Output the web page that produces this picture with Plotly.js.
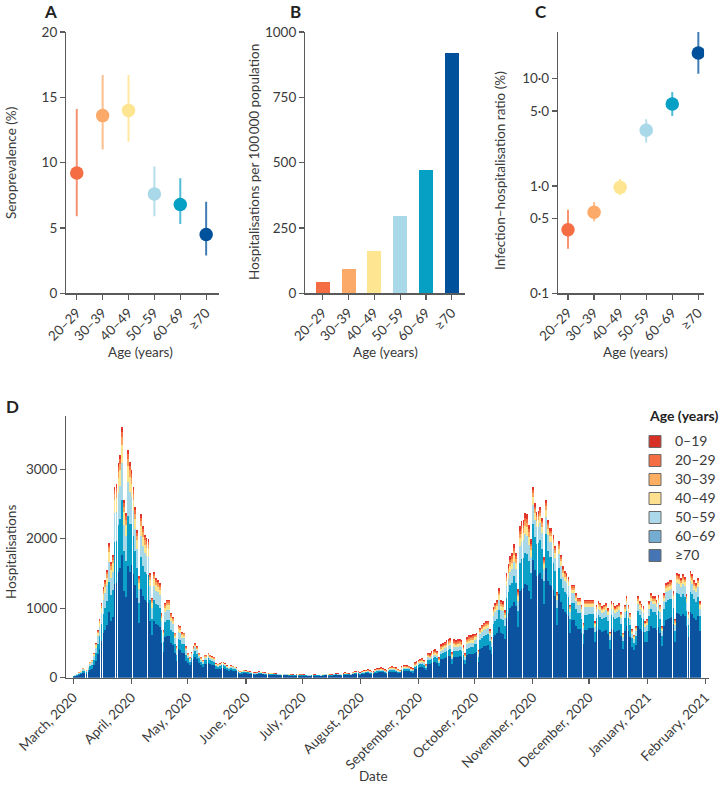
<!DOCTYPE html>
<html>
<head>
<meta charset="utf-8">
<script src="https://cdn.plot.ly/plotly-3.0.1.min.js"></script>
<style>
  html, body { margin: 0; padding: 0; background: #fff; }
  #chart { width: 721px; height: 786px; }
</style>
</head>
<body>
<div id="chart"></div>
<script>
// ---------- Panels A–C: by age group ----------
const ageGroups = ['20–29', '30–39', '40–49', '50–59', '60–69', '≥70'];
const seroMid  = [9.2, 13.6, 14.0, 7.6, 6.8, 4.5];
const seroLow  = [5.9, 11.0, 11.6, 5.9, 5.3, 2.9];
const seroHigh = [14.1, 16.7, 16.7, 9.7, 8.8, 7.0];
const hospPer100k = [44, 94, 163, 296, 470, 920];
const ihrMid  = [0.39, 0.57, 0.97, 3.30, 5.8, 17.3];
const ihrLow  = [0.26, 0.47, 0.82, 2.54, 4.49, 11.1];
const ihrHigh = [0.60, 0.71, 1.16, 4.18, 7.5, 27.2];
const ageColors = ['#f46d43', '#fcaa69', '#fee591', '#a9d9e9', '#06a0c5', '#00519b'];
const ageErrColors = ['rgba(244,109,67,0.75)', 'rgba(252,170,105,0.75)', 'rgba(254,229,145,0.85)',
                      'rgba(169,217,233,0.85)', 'rgba(6,160,197,0.7)', 'rgba(0,81,155,0.75)'];

// ---------- Panel D: daily hospitalisations (total per day, by month) ----------
const monthStarts = ['2020-03', '2020-04', '2020-05', '2020-06', '2020-07', '2020-08',
                     '2020-09', '2020-10', '2020-11', '2020-12', '2021-01'];
const totMar = [30,40,60,80,100,140,130,110,160,230,260,360,500,690,850,1080,1300,1410,1550,1940,1670,1770,2750,2780,3090,3210,3600,2560,2370,3280,3110];
const totApr = [2990,2750,2460,2130,1460,2350,2180,2060,2010,1990,1510,1150,1520,1440,1410,1360,930,690,1080,1120,1120,930,880,650,450,760,740,660,650,450];
const totMay = [360,300,370,450,500,450,360,300,260,330,330,360,330,310,300,210,200,210,230,230,210,180,160,180,170,160,150,110,95,100,110];
const totJun = [105,100,90,85,80,75,80,90,85,80,75,70,65,70,70,65,62,58,55,52,60,58,55,52,50,48,45,50,52,50];
const totJul = [50,48,45,42,40,45,50,48,46,45,42,55,60,58,55,50,48,60,65,62,58,55,65,75,70,65,60,85,90,95,100];
const totAug = [80,100,110,115,120,110,100,90,125,135,140,150,140,120,105,145,160,165,160,150,130,115,170,180,185,180,175,150,135,220,240];
const totSep = [260,270,280,260,200,360,350,380,400,410,390,300,480,500,520,540,560,575,370,550,540,550,560,540,470,360,590,610,620,625];
const totOct = [630,640,400,720,760,790,810,820,700,590,1020,1080,1120,1290,1120,1100,980,1510,1630,1750,1800,1920,1800,1270,2180,2250,2270,2370,2350,2200,1990];
const totNov = [2750,2510,2390,2400,2460,2300,1730,2560,2270,2160,2150,2050,1900,1240,1960,1770,1600,1540,1500,1450,1050,1340,1340,1220,1150,1150,1050,790,1120,1120];
const totDec = [1120,1120,1120,810,1050,1100,1080,1030,1050,1070,1000,660,1100,1080,1030,1050,1070,950,650,1050,1170,1050,930,700,620,740,1170,1100,1060,1030,810];
const totJan = [840,1100,1220,1170,1170,1120,1190,1050,740,1220,1360,1380,1400,1410,1250,840,1510,1490,1440,1490,1450,1200,950,1530,1490,1400,1360,1440,1100];
const monthTotals = [totMar, totApr, totMay, totJun, totJul, totAug, totSep, totOct, totNov, totDec, totJan];

// share (%) of each age group per month, Mar 2020 → Jan 2021
const share0_19  = [2, 2, 3, 5, 7, 7, 5, 3, 2, 2, 2];
const share20_29 = [2, 2, 2, 3, 4, 5, 4, 2, 1.5, 1.5, 1.5];
const share30_39 = [3, 3, 3, 3, 4, 5, 4, 3, 2, 2, 2];
const share40_49 = [7, 6, 5, 5, 5, 6, 6, 5, 4, 4, 4];
const share50_59 = [15, 13, 10, 9, 9, 9, 10, 11, 10, 9, 10];
const share60_69 = [22, 20, 17, 15, 14, 14, 16, 19, 19, 18, 19];
const share70    = [49, 54, 60, 60, 57, 54, 55, 57, 61.5, 63.5, 61.5];

const dAgeLabels = ['0–19', '20–29', '30–39', '40–49', '50–59', '60–69', '≥70'];
const dShares = [share0_19, share20_29, share30_39, share40_49, share50_59, share60_69, share70];
const dBarColors = ['#e2352b', '#f46d43', '#fba55f', '#fde48f', '#a6d8e8', '#0aa0c8', '#0b539e'];
const dLegendColors = ['#d73027', '#f46d43', '#fdae61', '#fee090', '#abd9e9', '#74add1', '#4575b4'];

const tickDates = ['2020-03-01','2020-04-01','2020-05-01','2020-06-01','2020-07-01','2020-08-01',
                   '2020-09-01','2020-10-01','2020-11-01','2020-12-01','2021-01-01','2021-02-01'];
const tickLabels = ['March, 2020','April, 2020','May, 2020','June, 2020','July, 2020','August, 2020',
                    'September, 2020','October, 2020','November, 2020','December, 2020','January, 2021','February, 2021'];

// ---------- build ----------
const FONT = 'Lato, "Open Sans", sans-serif';
const TXT = '#3a3a3a';
const AX = '#5a5a5a';

const traces = [];

// Panel A
ageGroups.forEach((g, i) => {
  traces.push({
    type: 'scatter', mode: 'markers', xaxis: 'x', yaxis: 'y', showlegend: false,
    x: [g], y: [seroMid[i]],
    marker: { size: 13.5, color: ageColors[i] },
    error_y: { type: 'data', symmetric: false, array: [seroHigh[i] - seroMid[i]],
               arrayminus: [seroMid[i] - seroLow[i]], color: ageErrColors[i], thickness: 2, width: 0 },
    hoverinfo: 'skip'
  });
});

// Panel B
traces.push({
  type: 'bar', xaxis: 'x2', yaxis: 'y2', showlegend: false,
  x: ageGroups, y: hospPer100k, width: 0.54,
  marker: { color: ageColors }, hoverinfo: 'skip'
});

// Panel C
ageGroups.forEach((g, i) => {
  traces.push({
    type: 'scatter', mode: 'markers', xaxis: 'x3', yaxis: 'y3', showlegend: false,
    x: [g], y: [ihrMid[i]],
    marker: { size: 13.5, color: ageColors[i] },
    error_y: { type: 'data', symmetric: false, array: [ihrHigh[i] - ihrMid[i]],
               arrayminus: [ihrMid[i] - ihrLow[i]], color: ageErrColors[i], thickness: 2, width: 0 },
    hoverinfo: 'skip'
  });
});

// Panel D
const dates = [];
monthTotals.forEach((arr, m) => {
  arr.forEach((v, d) => dates.push(monthStarts[m] + '-' + String(d + 1).padStart(2, '0')));
});
const DAY = 86400000;
for (let g = dAgeLabels.length - 1; g >= 0; g--) {
  const ys = [];
  monthTotals.forEach((arr, m) => arr.forEach(v => ys.push(v * dShares[g][m] / 100)));
  traces.push({
    type: 'bar', xaxis: 'x4', yaxis: 'y4', showlegend: false, name: dAgeLabels[g],
    x: dates, y: ys, width: DAY * 0.92,
    marker: { color: dBarColors[g], line: { width: 0 } }, hoverinfo: 'skip'
  });
}
// legend swatches
dAgeLabels.forEach((lab, g) => {
  traces.push({
    type: 'bar', xaxis: 'x4', yaxis: 'y4', showlegend: true,
    name: '<span style="font-size:14px">' + lab + '</span>',
    x: [null], y: [null],
    marker: { color: dLegendColors[g], line: { color: '#6a6a6a', width: 1 } }, hoverinfo: 'skip'
  });
});

function catAxis(domain, range) {
  return {
    domain: domain, type: 'category', categoryorder: 'array', categoryarray: ageGroups,
    range: range, showline: true, linecolor: AX, linewidth: 1.5, ticks: 'outside', ticklen: 5,
    tickwidth: 1.2, tickcolor: AX, tickangle: -45, showgrid: false, zeroline: false,
    tickfont: { family: FONT, size: 13.5, color: TXT }, automargin: false, fixedrange: true
  };
}
function valAxis(domain, extra) {
  return Object.assign({
    domain: domain, showline: true, linecolor: AX, linewidth: 1.5, ticks: 'outside', ticklen: 5,
    tickwidth: 1.2, tickcolor: AX, showgrid: false, zeroline: false,
    tickfont: { family: FONT, size: 13.5, color: TXT }, automargin: false, fixedrange: true
  }, extra);
}

const topDom = [1 - 293.3 / 786, 1 - 32 / 786];
const W = 721, H = 786;
function ann(text, x, y, opts) {
  return Object.assign({
    text: text, x: x / W, y: 1 - y / H, xref: 'paper', yref: 'paper', showarrow: false,
    xanchor: 'center', yanchor: 'middle', font: { family: FONT, size: 13.5, color: TXT }
  }, opts || {});
}
const LET = { family: FONT, size: 17, color: '#222' };

const layout = {
  width: W, height: H, margin: { l: 0, r: 0, t: 0, b: 0 },
  paper_bgcolor: '#fff', plot_bgcolor: '#fff',
  barmode: 'stack', bargap: 0,
  font: { family: FONT, color: TXT },
  xaxis: catAxis([66.7 / W, 220 / W], [-0.4, 5.5]),
  yaxis: valAxis(topDom, { range: [0, 20], tickvals: [0, 5, 10, 15, 20] }),
  xaxis2: Object.assign(catAxis([306.7 / W, 466.7 / W], [-0.67, 5.5]), { anchor: 'y2' }),
  yaxis2: valAxis(topDom, { anchor: 'x2', range: [0, 1000], tickvals: [0, 250, 500, 750, 1000] }),
  xaxis3: Object.assign(catAxis([560.7 / W, 707 / W], [-0.37, 5.22]), { anchor: 'y3' }),
  yaxis3: valAxis(topDom, { anchor: 'x3', type: 'log', range: [-1, 1.434],
    tickvals: [0.1, 0.5, 1, 5, 10], ticktext: ['0·1', '0·5', '1·0', '5·0', '10·0'] }),
  xaxis4: {
    domain: [66.7 / W, 712 / W], anchor: 'y4', type: 'date',
    range: ['2020-02-26 07:00', '2021-02-02 23:00'],
    tickmode: 'array', tickvals: tickDates, ticktext: tickLabels, tickangle: -45,
    showline: true, linecolor: AX, linewidth: 1.5, ticks: 'outside', ticklen: 5, tickwidth: 1.2, tickcolor: AX,
    showgrid: false, zeroline: false, tickfont: { family: FONT, size: 13.5, color: TXT },
    automargin: false, fixedrange: true
  },
  yaxis4: valAxis([1 - 677.7 / H, 1 - 416 / H], { anchor: 'x4', range: [0, 3765], tickvals: [0, 1000, 2000, 3000] }),
  legend: {
    x: 638 / W, y: 1 - 427 / H, xanchor: 'left', yanchor: 'top', traceorder: 'normal',
    bgcolor: 'rgba(0,0,0,0)', font: { family: FONT, size: 12.3, color: TXT },
    itemwidth: 30, tracegroupgap: 0
  },
  annotations: [
    ann('<b>A</b>', 51, 11, { font: LET }),
    ann('<b>B</b>', 297, 11, { font: LET }),
    ann('<b>C</b>', 543, 11, { font: LET }),
    ann('<b>D</b>', 13, 406, { font: LET }),
    ann('<b>Age (years)</b>', 650, 416, { xanchor: 'left', font: { family: FONT, size: 14, color: '#222' } }),
    ann('Seroprevalence (%)', 11, 163, { textangle: -90 }),
    ann('Age (years)', 141, 352),
    ann('Hospitalisations per 100\u2009000 population', 255, 162, { textangle: -90 }),
    ann('Age (years)', 387, 352),
    ann('Infection–hospitalisation ratio (%)', 502, 170, { textangle: -90 }),
    ann('Age (years)', 638, 352),
    ann('Hospitalisations', 11, 552, { textangle: -90 }),
    ann('Date', 375, 776)
  ]
};

Plotly.newPlot('chart', traces, layout, { displayModeBar: false, staticPlot: true });
</script>
</body>
</html>
